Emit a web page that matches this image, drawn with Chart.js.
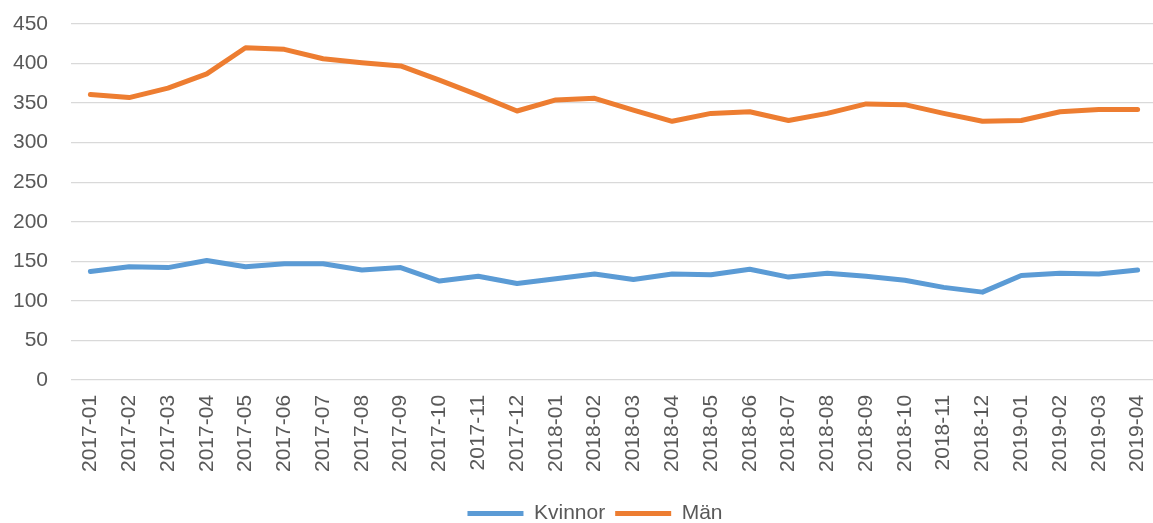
<!DOCTYPE html>
<html>
<head>
<meta charset="utf-8">
<script src="https://cdn.jsdelivr.net/npm/chart.js@4/dist/chart.umd.min.js"></script>
<style>
  html, body { margin: 0; padding: 0; background: #fff; overflow: hidden; }
  #wrap { width: 1157px; height: 534px; position: relative; }
</style>
</head>
<body>
<div id="wrap"><canvas id="chart"></canvas></div>
<script>
// månader
const labels = ['2017-01','2017-02','2017-03','2017-04','2017-05','2017-06','2017-07','2017-08','2017-09','2017-10','2017-11','2017-12',
                '2018-01','2018-02','2018-03','2018-04','2018-05','2018-06','2018-07','2018-08','2018-09','2018-10','2018-11','2018-12',
                '2019-01','2019-02','2019-03','2019-04'];

const kvinnor = [137,143,142,151,143,147,147,139,142,125,131,122,128,134,127,134,133,140,130,135,131,126,117,111,132,135,134,139];
const man     = [361,357,369,387,420,418,406,401,397,379,360,340,354,356,341,327,337,339,328,337,349,348,337,327,328,339,342,342];

const yTicks = [0,50,100,150,200,250,300,350,400,450];

const grey = '#595959';
const font = { family: "'Liberation Sans', Arial, sans-serif", size: 21 };

// flytta legenden lite åt höger, som i originalet
const legendShift = {
    id: 'legendShift',
    afterLayout(chart) {
        chart.legend.left += 10;
        chart.legend.right += 10;
    }
};

new Chart(document.getElementById('chart'), {
    type: 'line',
    data: {
        labels: labels,
        datasets: [
            { label: 'Kvinnor', data: kvinnor, borderColor: '#5B9BD5', backgroundColor: '#5B9BD5',
              borderWidth: 5, pointRadius: 0, tension: 0, borderCapStyle: 'round', borderJoinStyle: 'round' },
            { label: 'Män', data: man, borderColor: '#ED7D31', backgroundColor: '#ED7D31',
              borderWidth: 5, pointRadius: 0, tension: 0, borderCapStyle: 'round', borderJoinStyle: 'round' }
        ]
    },
    options: {
        responsive: true,
        maintainAspectRatio: false,
        animation: false,
        layout: { padding: { left: 13, right: 0, top: 0, bottom: 0 } },
        plugins: {
            tooltip: { enabled: false },
            legend: {
                position: 'bottom',
                labels: {
                    usePointStyle: true,
                    pointStyle: 'line',
                    pointStyleWidth: 56,
                    color: grey,
                    font: font,
                    padding: 10
                }
            }
        },
        scales: {
            x: {
                offset: true,
                grid: { display: false },
                border: { display: false },
                ticks: { color: grey, font: font, minRotation: 90, maxRotation: 90, padding: 7, autoSkip: false },
                afterFit: s => { s.height += 14; s.paddingLeft = 0; s.paddingRight = 0; }
            },
            y: {
                min: 0,
                max: 450,
                afterBuildTicks: s => { s.ticks = yTicks.map(v => ({ value: v })); },
                grid: { color: '#d9d9d9', lineWidth: 1.3, drawTicks: false },
                border: { display: false },
                ticks: { color: grey, font: font, padding: 23 },
                afterFit: s => { s.width = 58; s.paddingTop = 24; s.paddingBottom = 0; }
            }
        }
    },
    plugins: [legendShift]
});
</script>
</body>
</html>
